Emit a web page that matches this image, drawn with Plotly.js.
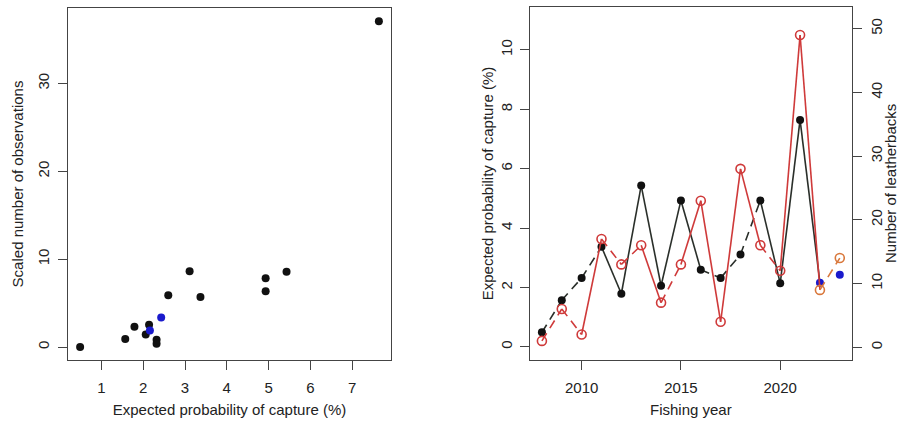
<!DOCTYPE html>
<html>
<head>
<meta charset="utf-8">
<script src="https://cdn.plot.ly/plotly-3.0.1.min.js"></script>
<style>html,body{margin:0;padding:0;background:#fff;}#chart{width:899px;height:423px;}</style>
</head>
<body>
<div id="chart"></div>
<script>
// ---- data ----
const years = [2008, 2009, 2010, 2011, 2012, 2013, 2014, 2015, 2016, 2017, 2018, 2019, 2020, 2021, 2022, 2023];
const expectedProb = [0.49, 1.57, 2.32, 3.37, 1.79, 5.43, 2.06, 4.93, 2.60, 2.32, 3.11, 4.93, 2.14, 7.64, 2.16, 2.43];
const scaledObs = [0.0, 0.91, 0.83, 5.68, 2.30, 8.56, 1.43, 7.84, 5.90, 0.38, 8.63, 6.36, 2.53, 37.1, 1.89, 3.37];
const leatherbacks = [1, 6, 2, 17, 13, 16, 7, 13, 23, 4, 28, 16, 12, 49, 9, 14];
const projectedYears = [2022, 2023];
// segment line types (segment i joins year i and i+1)
const probSegDashed = [1, 1, 1, 0, 0, 0, 0, 0, 1, 1, 1, 0, 0, 0];
const countSegDashed = [1, 1, 0, 1, 1, 0, 1, 0, 0, 0, 0, 1, 0, 0, 1];

const BLUE = '#1a1acc', BLK = '#111', LINEBLK = '#2a2f2a', RED = '#cf3a3a', ORANGE = '#d9783c';
const FONT = {family: 'Liberation Sans, Arial, sans-serif', size: 15, color: '#222'};

function segTrace(xs, ys, mask, want, upto, color, dash, yaxis, xaxis) {
  const sx = [], sy = [];
  for (let i = 0; i < mask.length && i + 1 < upto; i++) {
    if (mask[i] === want) { sx.push(xs[i], xs[i + 1], null); sy.push(ys[i], ys[i + 1], null); }
  }
  return {x: sx, y: sy, mode: 'lines', xaxis: xaxis, yaxis: yaxis, connectgaps: false,
          line: {color: color, width: 1.6, dash: dash}, hoverinfo: 'skip', showlegend: false};
}

const isProj = years.map(y => projectedYears.includes(y));
const ptColors = isProj.map(p => p ? BLUE : BLK);

const traces = [];
// left scatter
traces.push({x: expectedProb, y: scaledObs, mode: 'markers', xaxis: 'x', yaxis: 'y',
  marker: {color: ptColors, size: 8}, showlegend: false});

// right: expected probability (left axis)
const nProbLine = probSegDashed.length + 1;
traces.push(segTrace(years, expectedProb, probSegDashed, 0, nProbLine, LINEBLK, 'solid', 'y2', 'x2'));
traces.push(segTrace(years, expectedProb, probSegDashed, 1, nProbLine, LINEBLK, '9px,6px', 'y2', 'x2'));
traces.push({x: years, y: expectedProb, mode: 'markers', xaxis: 'x2', yaxis: 'y2',
  marker: {color: ptColors, size: 8}, showlegend: false});

// right: number of leatherbacks (right axis)
const countMaskMain = countSegDashed.map((d, i) => (years[i + 1] > projectedYears[0] ? -1 : d));
const countMaskProj = countSegDashed.map((d, i) => (years[i + 1] > projectedYears[0] ? d : -1));
traces.push(segTrace(years, leatherbacks, countMaskMain, 0, years.length, RED, 'solid', 'y3', 'x2'));
traces.push(segTrace(years, leatherbacks, countMaskMain, 1, years.length, RED, '9px,6px', 'y3', 'x2'));
traces.push(segTrace(years, leatherbacks, countMaskProj, 1, years.length, ORANGE, '9px,6px', 'y3', 'x2'));
traces.push({x: years, y: leatherbacks, mode: 'markers', xaxis: 'x2', yaxis: 'y3',
  marker: {symbol: 'circle-open', size: 9, color: isProj.map(p => p ? ORANGE : RED), line: {width: 1.6}},
  showlegend: false});
// invisible companion carrying the right-hand axis labels (placed further out)
traces.push({x: years, y: leatherbacks, mode: 'markers', xaxis: 'x2', yaxis: 'y4',
  marker: {opacity: 0, size: 1}, hoverinfo: 'skip', showlegend: false});

const W = 899, H = 423;
const ax = (extra) => Object.assign({
  showgrid: false, zeroline: false, showline: true, linecolor: '#444', linewidth: 1,
  ticks: 'outside', ticklen: 9, tickcolor: '#444', tickwidth: 1, tickfont: FONT, fixedrange: true
}, extra);
const countRange = [-2.0, 53.4];

const layout = {
  width: W, height: H, margin: {l: 0, r: 0, t: 0, b: 0},
  paper_bgcolor: '#fff', plot_bgcolor: '#fff', showlegend: false, font: FONT,
  xaxis: ax({domain: [68 / W, 391 / W], range: [0.2, 7.93], dtick: 1, tick0: 1, mirror: true, anchor: 'y',
    ticklabelstandoff: 5,
    title: {text: 'Expected probability of capture (%)', font: FONT, standoff: 9}}),
  yaxis: ax({domain: [(H - 360) / H, (H - 8) / H], range: [-1.48, 38.6], dtick: 10, tick0: 0, mirror: true,
    tickangle: -90, anchor: 'x', ticklabelstandoff: 3,
    title: {text: 'Scaled number of observations', font: FONT, standoff: 7}}),
  xaxis2: ax({domain: [530 / W, 851.7 / W], range: [2007.4, 2023.6], dtick: 5, tick0: 2010, mirror: true,
    anchor: 'y2', ticklabelstandoff: 5, title: {text: 'Fishing year', font: FONT, standoff: 9}}),
  yaxis2: ax({domain: [(H - 360) / H, (H - 7) / H], range: [-0.44, 11.44], dtick: 2, tick0: 0, mirror: true,
    tickangle: -90, anchor: 'x2', ticklabelstandoff: 2,
    title: {text: 'Expected probability of capture (%)', font: FONT, standoff: 0}}),
  yaxis3: ax({overlaying: 'y2', side: 'right', anchor: 'x2', range: countRange, dtick: 10, tick0: 0,
    showticklabels: false}),
  yaxis4: ax({overlaying: 'y2', side: 'right', anchor: 'free', position: 866 / W, range: countRange,
    dtick: 10, tick0: 0, showline: false, ticks: '', tickangle: -90}),
  annotations: [{text: 'Number of leatherbacks', xref: 'paper', yref: 'paper', x: 891 / W, y: (H - 184) / H,
    xanchor: 'center', yanchor: 'middle', textangle: -90, showarrow: false, font: FONT}]
};

Plotly.newPlot('chart', traces, layout, {staticPlot: true, displayModeBar: false});
</script>
</body>
</html>
